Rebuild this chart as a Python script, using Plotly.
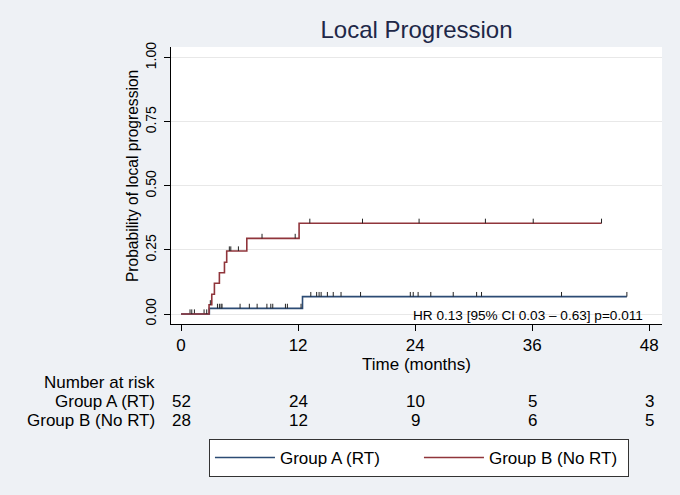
import numpy as np
import plotly.graph_objects as go

# Kaplan-Meier steps
a_time = [0, 2.9, 12.45, 45.7]
a_prob = [0, 0.022, 0.068, 0.068]
a_cens = [0.92, 1.37, 2.36, 3.73, 3.93, 4.1, 4.2, 6.05, 7.0, 7.8, 8.8, 9.2, 9.4,
          10.7, 10.9, 12.3, 13.3, 13.9, 14.15, 14.36, 15.0, 15.6, 16.4, 18.4,
          23.5, 23.8, 24.3, 25.6, 27.9, 30.3, 30.8, 39.0, 45.7]

b_time = [0, 2.87, 3.15, 3.42, 3.93, 4.45, 4.68, 6.74, 12.1, 43.1]
b_prob = [0, 0.036, 0.077, 0.12, 0.161, 0.202, 0.246, 0.295, 0.354, 0.354]
b_cens = [1.1, 2.63, 3.0, 4.95, 5.1, 5.88, 8.3, 11.7, 13.2, 18.6, 24.4, 31.2,
          36.1, 43.1]

risk_months = [0, 12, 24, 36, 48]
risk_a = [52, 24, 10, 5, 3]
risk_b = [28, 12, 9, 6, 5]

NAVY = '#2c4b74'
MAROON = '#90353b'
FONT = 'Liberation Sans, Arial, sans-serif'


def level_at(times, probs, t):
    idx = np.searchsorted(times, t, side='right') - 1
    return np.asarray(probs)[idx]


fig = go.Figure()

for name, t, p, c, col in [('Group A (RT)', a_time, a_prob, a_cens, NAVY),
                           ('Group B (No RT)', b_time, b_prob, b_cens, MAROON)]:
    fig.add_trace(go.Scatter(
        x=t, y=p, name=name, mode='lines', line_shape='hv',
        line=dict(color=col, width=1.6), hoverinfo='skip'
    ))
    # censoring ticks
    fig.add_trace(go.Scatter(
        x=c, y=level_at(t, p, c), mode='markers', showlegend=False,
        marker=dict(size=1, color='rgba(0,0,0,0)'),
        error_y=dict(type='constant', value=0.018, valueminus=0, symmetric=False,
                     width=0, thickness=1, color='#222'),
        hoverinfo='skip'
    ))

# number at risk table
fig.add_annotation(text='Number at risk', xref='paper', yref='paper',
                   x=-0.0285, y=-0.2094, xanchor='right', yanchor='middle',
                   showarrow=False, font=dict(size=17))
for label, counts, yy in [('Group A (RT)', risk_a, -0.2805),
                          ('Group B (No RT)', risk_b, -0.3466)]:
    fig.add_annotation(text=label, xref='paper', yref='paper',
                       x=-0.0285, y=yy, xanchor='right', yanchor='middle',
                       showarrow=False, font=dict(size=17))
    for m, n in zip(risk_months, counts):
        fig.add_annotation(text=str(n), xref='x', yref='paper', x=m, y=yy,
                           xanchor='center', yanchor='middle',
                           showarrow=False, font=dict(size=17))

fig.add_annotation(text='HR 0.13 [95% CI 0.03 \u2013 0.63] p=0.011',
                   xref='paper', yref='paper', x=0.9654, y=0.030,
                   xanchor='right', yanchor='middle', showarrow=False,
                   font=dict(size=13.6))

fig.add_annotation(text='Probability of local progression', xref='paper',
                   yref='paper', x=-0.0794, y=0.534, textangle=-90,
                   xanchor='center', yanchor='middle', showarrow=False,
                   font=dict(size=15.6))

fig.update_xaxes(
    range=[-1.03, 49.3], tickvals=risk_months, showgrid=False, zeroline=False,
    showline=True, linecolor='black', linewidth=1, ticks='outside', ticklen=6,
    tickcolor='black', tickfont=dict(size=17),
    title=dict(text='Time (months)', font=dict(size=17), standoff=2)
)
fig.update_yaxes(
    range=[-0.039, 1.042], tickvals=[0, 0.25, 0.5, 0.75, 1.0], tickformat='.2f',
    tickangle=-90, showgrid=True, gridcolor='#e8e8e8', zeroline=False,
    showline=True, linecolor='black', linewidth=1, ticks='outside', ticklen=6,
    tickcolor='black', tickfont=dict(size=14), ticklabelstandoff=2
)

fig.update_layout(
    width=680, height=495,
    margin=dict(l=171, r=18, t=47, b=171),
    paper_bgcolor='#eef1f5', plot_bgcolor='white',
    font=dict(family=FONT, color='black'),
    title=dict(text='Local Progression', x=0.5, xref='paper', y=0.941,
               yanchor='middle', font=dict(size=24, color='#1e2848')),
    legend=dict(orientation='h', x=0.505, xanchor='center', y=-0.415,
                yanchor='top', bgcolor='white', bordercolor='#333',
                borderwidth=1, font=dict(size=17), itemwidth=60,
                entrywidth=134, entrywidthmode='pixels'),
    showlegend=True
)

# page body has a default 8px margin; drop it so the figure fills the window
fig.write_html('out.html', config={'displayModeBar': False},
               post_script="document.body.style.margin='0';")
